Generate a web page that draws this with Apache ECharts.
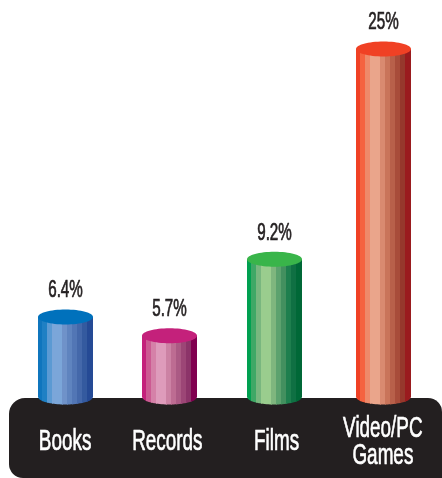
<!DOCTYPE html>
<html>
<head>
<meta charset="utf-8">
<style>
  html, body { margin: 0; padding: 0; background: #fff; }
  #chart { width: 442px; height: 478px; }
</style>
<script src="https://cdn.jsdelivr.net/npm/echarts@6/dist/echarts.min.js"></script>
</head>
<body>
<div id="chart"></div>
<script>
var categories = ["Books", "Records", "Films", "Video/PC\nGames"];
// what the labels say
var percentLabels = ["6.4%", "5.7%", "9.2%", "25%"];
// the drawn columns are not to scale with their labels, so heights are read off the picture
var columnHeights = [5.75, 4.4, 9.9, 25];

var bandWidths = [4, 5, 5, 10, 5, 5, 5, 5, 5, 6];
var bandColors = [
  ["#0f75bd", "#1f80c4", "#5b9ad3", "#7ba6d9", "#6f92c9", "#5f84bf", "#5276b5", "#4468aa", "#345a9f", "#254a95"],
  ["#c4217b", "#cc5a92", "#d581a8", "#de9bbb", "#cc82a4", "#bd6c92", "#ab5a84", "#9c4676", "#8c3469", "#80004f"],
  ["#00a050", "#3fa866", "#79b77f", "#9acd8e", "#7fb67e", "#5ca26e", "#43905f", "#1e7f4e", "#0f7043", "#006837"],
  ["#f04124", "#f56340", "#ee8a6a", "#eaa58b", "#d98a70", "#c9745a", "#b8604a", "#a84c3a", "#96382c", "#9a1b1e"]
];
var topColors = ["#0071bc", "#c4217b", "#39b54a", "#f04124"];

// bars in the source are not evenly spaced
var barNudge = [0, -2, -3, 0];
var labelNudge = [0, -4, -1, -1];

var myChart = echarts.init(document.getElementById("chart"));

function narrowText(text, x, y, size, color, squeeze, lineHeight) {
  return {
    type: "text",
    x: x,
    y: y,
    scaleX: squeeze,
    style: {
      text: text,
      x: 0,
      y: 0,
      align: "center",
      verticalAlign: "middle",
      lineHeight: lineHeight,
      font: size + "px 'Liberation Sans'",
      fill: color,
      // thin outline to get the heavier weight of the original lettering
      stroke: color,
      lineWidth: 0.7
    }
  };
}

function renderColumn(params, api) {
  var i = api.value(0);
  var base = api.coord([i, 0]);
  var top = api.coord([i, api.value(1)]);
  var cx = Math.round(base[0] + barNudge[i] - 27.5) + 27.5;
  var rx = 27.5, ry = 7.5;
  var children = [];
  var x = cx - rx;
  bandWidths.forEach(function (w, b) {
    // each band runs on under the next one so no seams show
    var right = b < bandWidths.length - 1 ? x + w + 1 : x + w;
    var pts = [[x, top[1]], [right, top[1]]];
    // bottom edge follows the ellipse
    for (var s = 0; s <= 6; s++) {
      var px = right - ((right - x) * s) / 6;
      var u = (px - cx) / rx;
      pts.push([px, base[1] + ry * Math.sqrt(Math.max(0, 1 - u * u))]);
    }
    children.push({
      type: "polygon",
      shape: { points: pts },
      style: { fill: bandColors[i][b] }
    });
    x += w;
  });
  children.push({
    type: "ellipse",
    shape: { cx: cx, cy: top[1], rx: rx, ry: ry },
    style: { fill: topColors[i] }
  });
  children.push(narrowText(percentLabels[i], cx, top[1] - 26, 23, "#231f20", 0.66, 24));
  children.push(narrowText(categories[i], base[0] + labelNudge[i], 442, 30, "#fff", 0.63, 27));
  return { type: "group", children: children };
}

var option = {
  animation: false,
  grid: { left: 12, right: 5, top: 49, bottom: 81 },
  xAxis: { type: "category", data: categories, show: false },
  yAxis: { type: "value", min: 0, max: 25, show: false },
  graphic: [{
    type: "rect",
    z: -1,
    shape: { x: 9, y: 398, width: 433, height: 80, r: [16, 14, 0, 14] },
    style: { fill: "#231f20" }
  }],
  series: [{
    type: "custom",
    clip: false,
    z: 5,
    renderItem: renderColumn,
    data: columnHeights.map(function (h, i) { return [i, h]; })
  }]
};
myChart.setOption(option);
</script>
</body>
</html>
